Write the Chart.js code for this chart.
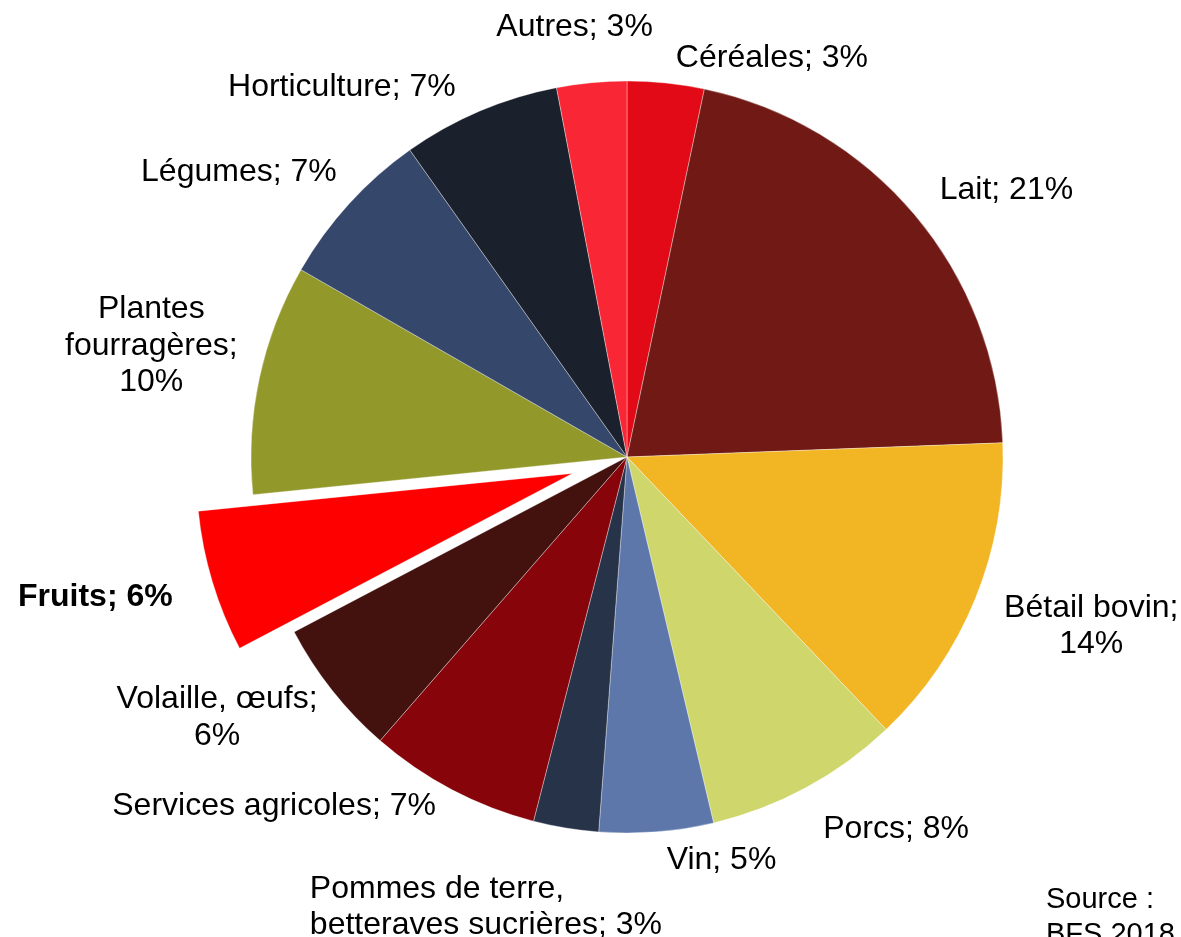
<!DOCTYPE html>
<html lang="fr">
<head>
<meta charset="utf-8">
<title>Production agricole par branche</title>
<script src="https://cdn.jsdelivr.net/npm/chart.js@4.4.1/dist/chart.umd.min.js"></script>
<style>
  html, body { margin: 0; padding: 0; background: #ffffff; }
  #wrap { width: 1181px; height: 937px; position: relative; overflow: hidden; }
</style>
</head>
<body>
<div id="wrap"><canvas id="chart" width="1181" height="937"></canvas></div>
<script>
// ---------------------------------------------------------------
// Données (parts en %)
// ---------------------------------------------------------------
const categories = [
  "Céréales", "Lait", "Bétail bovin", "Porcs", "Vin",
  "Pommes de terre, betteraves sucrières", "Services agricoles",
  "Volaille, œufs", "Fruits", "Plantes fourragères", "Légumes",
  "Horticulture", "Autres"
];
const shares = [3.3, 21.1, 13.5, 8.4, 4.9, 2.8, 7.4, 5.9, 6.1, 9.9, 6.9, 6.8, 3.0];
const sliceColors = [
  "#E20A16", "#711A15", "#F2B523", "#CFD66B", "#5D77AB",
  "#273349", "#87040B", "#43120F", "#FF0000", "#93982B",
  "#35476B", "#1A202C", "#F92735"
];
const highlighted = "Fruits";
const sourceLines = ["Source :", "BFS 2018"];

// ---------------------------------------------------------------
// Mise en page
// ---------------------------------------------------------------
const FONT = "'Liberation Sans', Arial, sans-serif";
const explodeDistance = 57;
const labelFontSize = 32;
const labelLineHeight = 36.5;

// décalage de chaque étiquette par rapport au bord extérieur de sa part
const labelLayout = [
  { dx: 106,  dy: -27 },                          // Céréales
  { dx: 92,   dy: -27 },                          // Lait
  { dx: 116,  dy: 25,  wrap: 200 },               // Bétail bovin
  { dx: 90,   dy: 39 },                           // Porcs
  { dx: 65,   dy: 26 },                           // Vin
  { dx: -256, dy: 77,  wrap: 370, align: "left" },// Pommes de terre
  { dx: -178, dy: 14 },                           // Services agricoles
  { dx: -115, dy: 25,  wrap: 220 },               // Volaille
  { dx: -117, dy: 13 },                           // Fruits
  { dx: -108, dy: -35, wrap: 200 },               // Plantes fourragères
  { dx: -110, dy: -34 },                          // Légumes
  { dx: -138, dy: -26 },                          // Horticulture
  { dx: -17,  dy: -58 }                           // Autres
];

function wrapText(ctx, text, maxWidth) {
  if (!maxWidth) return [text];
  const words = text.split(" ");
  const lines = [];
  let cur = "";
  words.forEach(w => {
    const test = cur ? cur + " " + w : w;
    if (cur && ctx.measureText(test).width > maxWidth) {
      lines.push(cur);
      cur = w;
    } else {
      cur = test;
    }
  });
  if (cur) lines.push(cur);
  return lines;
}

// part détachée (Fruits)
const explodePlugin = {
  id: "explodeSlice",
  beforeDatasetsDraw(chart) {
    const idx = categories.indexOf(highlighted);
    const arc = chart.getDatasetMeta(0).data[idx];
    if (!arc || arc._exploded) return;
    const baseDraw = arc.draw;
    arc.draw = function (ctx) {
      const mid = (this.startAngle + this.endAngle) / 2;
      ctx.save();
      ctx.translate(Math.cos(mid) * explodeDistance, Math.sin(mid) * explodeDistance);
      baseDraw.call(this, ctx);
      ctx.restore();
    };
    arc._exploded = true;
  }
};

// étiquettes "Nom; x%"
const labelPlugin = {
  id: "pieLabels",
  afterDatasetsDraw(chart) {
    const ctx = chart.ctx;
    const meta = chart.getDatasetMeta(0);
    const total = shares.reduce((a, b) => a + b, 0);

    meta.data.forEach((arc, i) => {
      const p = arc.getProps(["x", "y", "startAngle", "endAngle", "outerRadius"], true);
      const mid = (p.startAngle + p.endAngle) / 2;
      const isHi = categories[i] === highlighted;
      const r = p.outerRadius + (isHi ? explodeDistance : 0);
      const ax = p.x + Math.cos(mid) * r;
      const ay = p.y + Math.sin(mid) * r;
      const lay = labelLayout[i];

      const pct = Math.round(shares[i] / total * 100);
      const text = categories[i] + "; " + pct + "%";

      ctx.save();
      ctx.font = (isHi ? "bold " : "") + labelFontSize + "px " + FONT;
      ctx.fillStyle = "#000000";
      ctx.textBaseline = "alphabetic";
      ctx.textAlign = lay.align === "left" ? "left" : "center";
      const lines = wrapText(ctx, text, lay.wrap);
      const cx = ax + lay.dx;
      const cy = ay + lay.dy;
      lines.forEach((ln, k) => {
        const y = cy + (k - (lines.length - 1) / 2) * labelLineHeight + labelFontSize * 0.35;
        ctx.fillText(ln, cx, y);
      });
      ctx.restore();
    });
  },
  afterDraw(chart) {
    const ctx = chart.ctx;
    ctx.save();
    ctx.font = "29px " + FONT;
    ctx.fillStyle = "#000000";
    ctx.textAlign = "left";
    ctx.textBaseline = "alphabetic";
    sourceLines.forEach((ln, k) => ctx.fillText(ln, 1046, 908 + k * 34.5));
    ctx.restore();
  }
};

new Chart(document.getElementById("chart"), {
  type: "pie",
  data: {
    labels: categories,
    datasets: [{
      data: shares,
      backgroundColor: sliceColors,
      borderColor: "rgba(255,255,255,0.35)",
      borderWidth: 1,
      hoverOffset: 0
    }]
  },
  options: {
    responsive: false,
    animation: false,
    radius: 376,
    layout: { padding: { left: 100, right: 27, top: 80, bottom: 103 } },
    plugins: {
      legend: { display: false },
      tooltip: { enabled: false },
      title: { display: false }
    }
  },
  plugins: [explodePlugin, labelPlugin]
});
</script>
</body>
</html>
